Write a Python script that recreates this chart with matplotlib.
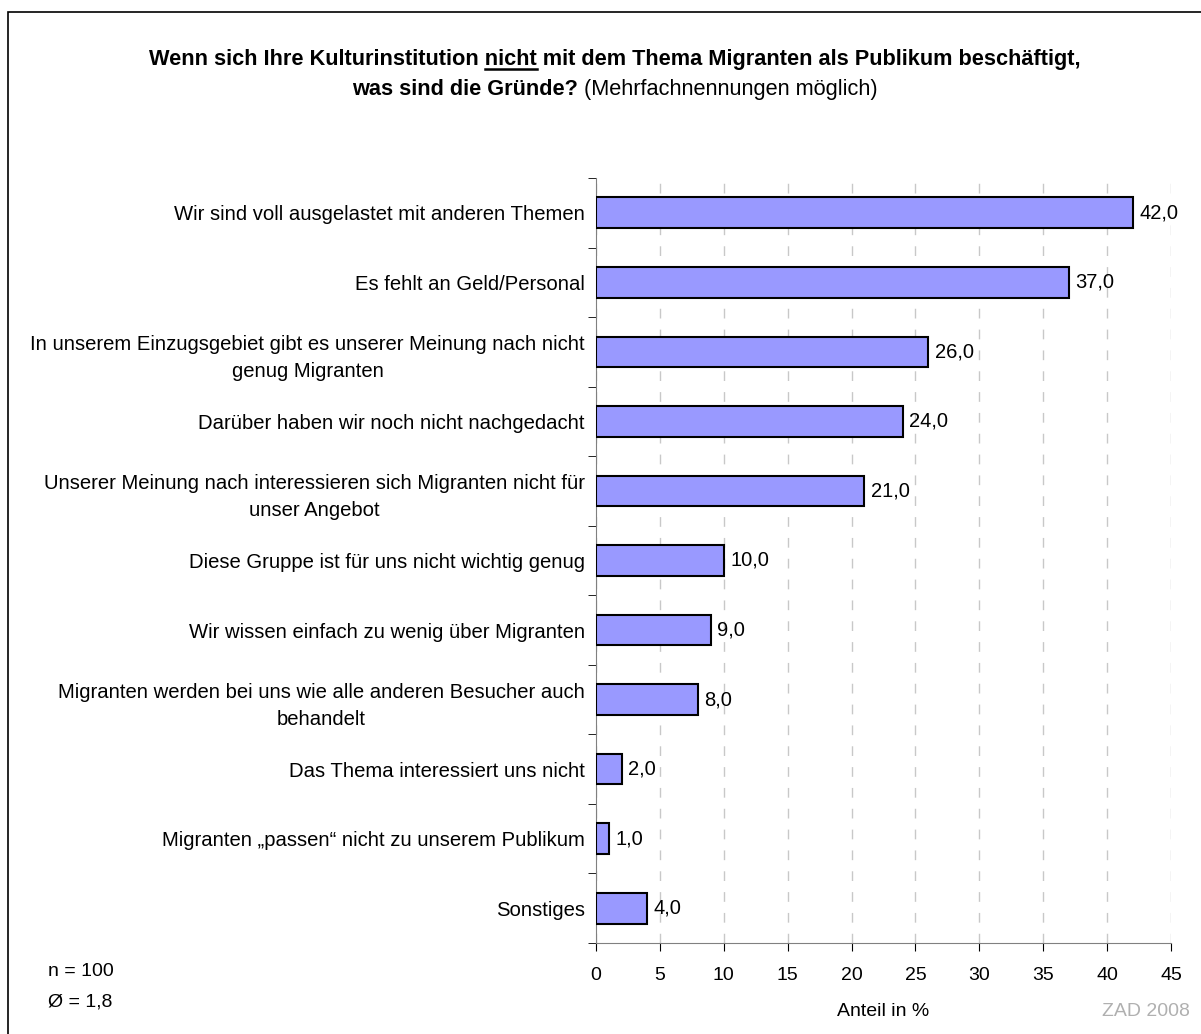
import matplotlib
matplotlib.use("Agg")
import matplotlib.pyplot as plt
from matplotlib.patches import Rectangle

plt.rcParams['font.family'] = ['Liberation Sans', 'DejaVu Sans']

categories = [
    "Wir sind voll ausgelastet mit anderen Themen",
    "Es fehlt an Geld/Personal",
    "In unserem Einzugsgebiet gibt es unserer Meinung nach nicht\ngenug Migranten",
    "Darüber haben wir noch nicht nachgedacht",
    "Unserer Meinung nach interessieren sich Migranten nicht für\nunser Angebot",
    "Diese Gruppe ist für uns nicht wichtig genug",
    "Wir wissen einfach zu wenig über Migranten",
    "Migranten werden bei uns wie alle anderen Besucher auch\nbehandelt",
    "Das Thema interessiert uns nicht",
    "Migranten „passen“ nicht zu unserem Publikum",
    "Sonstiges",
]
values = [42.0, 37.0, 26.0, 24.0, 21.0, 10.0, 9.0, 8.0, 2.0, 1.0, 4.0]
xticks = [0, 5, 10, 15, 20, 25, 30, 35, 40, 45]

W, H = 1201, 1034
fig = plt.figure(figsize=(W / 100, H / 100), dpi=100)

# frame round the whole chart
fig.patches.append(Rectangle((8 / W, -0.01), 1.2, 1 - 12 / H + 0.01, transform=fig.transFigure,
                             fill=False, edgecolor='black', linewidth=1.2))

ax = fig.add_axes([596 / W, 1 - 943 / H, (1171 - 596) / W, (943 - 178) / H])
n = len(categories)
ypos = list(range(n))
ax.barh(ypos, values, height=0.44, color='#9999ff', edgecolor='black', linewidth=1.5, zorder=3)
for y, v in zip(ypos, values):
    ax.text(v + 0.5, y, f"{v:.1f}".replace('.', ','), va='center', ha='left', fontsize=14.5)

ax.set_ylim(n - 0.5, -0.5)
ax.set_xlim(0, 45)
ax.set_xticks(xticks)
ax.set_xticklabels([str(t) for t in xticks], fontsize=14)
ax.set_yticks(ypos)
ax.set_yticklabels(categories, fontsize=14.6, ha='right', multialignment='center', linespacing=1.55)
ax.tick_params(axis='y', length=0, pad=8)
ax.set_yticks([i - 0.5 for i in range(n + 1)], minor=True)
ax.tick_params(axis='y', which='minor', length=6, direction='out', color='black')
ax.tick_params(axis='x', length=6, direction='out', pad=11)
ax.xaxis.grid(True, linestyle=(0, (7, 8)), color='#c8c8c8', linewidth=1, zorder=0)
for s in ['top', 'right']:
    ax.spines[s].set_visible(False)
ax.spines['left'].set_color('#808080')
ax.spines['bottom'].set_color('#808080')
ax.set_xlabel("Anteil in %", fontsize=14, labelpad=14)

fig.text(48 / W, 1 - 972 / H, "n = 100", fontsize=14, va='center')
fig.text(48 / W, 1 - 1002 / H, "Ø = 1,8", fontsize=14, va='center')
fig.text(1190 / W, 1 - 1012 / H, "ZAD 2008", fontsize=14, color='#b0b0b0', ha='right', va='center')

# title built from pieces: bold / underlined / normal
fig.canvas.draw()
r = fig.canvas.get_renderer()

def width(s, **kw):
    t = fig.text(0, 0, s, **kw)
    bb = t.get_window_extent(r)
    t.remove()
    return bb.width

tsize = 15.7
bold = dict(fontsize=tsize, fontweight='bold')
norm = dict(fontsize=tsize)
cx = 615
y1 = 1 - 65 / H
y2 = 1 - 95 / H
p1, p2, p3 = "Wenn sich Ihre Kulturinstitution ", "nicht", " mit dem Thema Migranten als Publikum beschäftigt,"
w1, w2, w3 = width(p1, **bold), width(p2, **bold), width(p3, **bold)
x0 = cx - (w1 + w2 + w3) / 2
fig.text(x0 / W, y1, p1 + p2 + p3, va='baseline', **bold)
fig.add_artist(plt.Line2D([(x0 + w1) / W, (x0 + w1 + w2) / W], [y1 - 4 / H, y1 - 4 / H],
                          color='black', linewidth=1.8, transform=fig.transFigure))
q1, q2 = "was sind die Gründe?", " (Mehrfachnennungen möglich)"
v1, v2 = width(q1, **bold), width(q2, **norm)
x0 = cx - (v1 + v2) / 2
fig.text(x0 / W, y2, q1, va='baseline', **bold)
fig.text((x0 + v1) / W, y2, q2, va='baseline', **norm)

fig.savefig("out.png", dpi=100)
